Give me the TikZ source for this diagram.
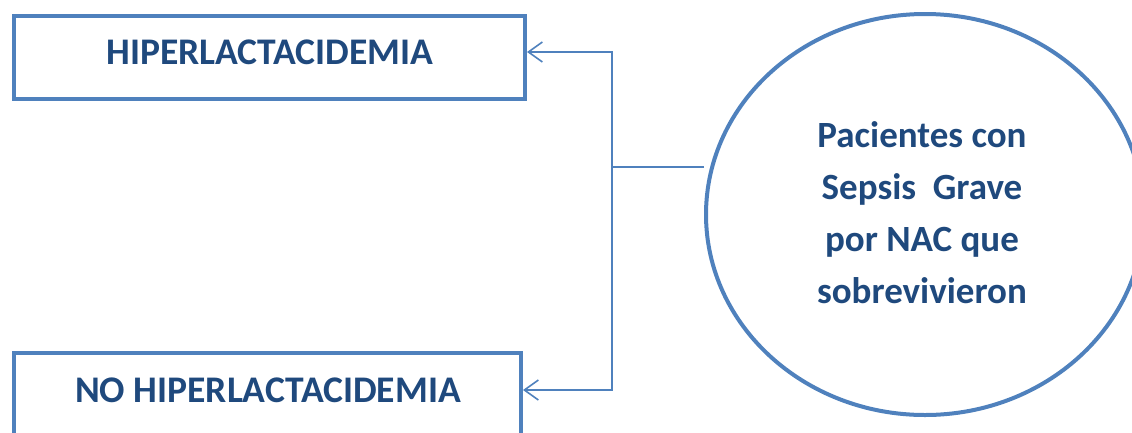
\documentclass[tikz,border=0pt]{standalone}
\usepackage{fontspec}
\setmainfont{Carlito}
\usetikzlibrary{arrows.meta,shapes.geometric}
\definecolor{bord}{HTML}{4F81BD}
\definecolor{txt}{HTML}{1F497D}
\begin{document}
\begin{tikzpicture}[x=1pt,y=1pt,
  box/.style={draw=bord,line width=4pt,inner sep=0pt,minimum height=83pt},
  lbl/.style={text=txt,font=\bfseries\fontsize{37.6}{52}\selectfont,inner sep=0pt},
  clbl/.style={text=txt,font=\bfseries\fontsize{37}{52}\selectfont,inner sep=0pt},
  oval/.style={ellipse,draw=bord,line width=4pt,inner sep=0pt,minimum width=438pt,minimum height=401pt},
  conn/.style={draw=bord,line width=1.6pt},
  tip/.style={-{Straight Barb[length=14pt,width=20pt,line width=1.6pt]}}]
\useasboundingbox (0,0) rectangle (1132,-432);
\node[box,minimum width=511pt] (tbox) at (269.5,-57.5) {};
\node[box,minimum width=507pt] (bbox) at (267.5,-394.5) {};
\node[lbl] (ttext) at (270,-52) {HIPERLACTACIDEMIA};
\node[lbl] (btext) at (268,-390) {NO HIPERLACTACIDEMIA};
\node[oval] (c) at (925,-214.5) {};
\node[clbl,align=center] (ctext) at (922,-213) {Pacientes con\\Sepsis~~Grave\\por NAC que\\sobrevivieron};
\coordinate (j) at (612,-167);
\draw[conn] (c.west |- j) -- (j);
\draw[conn,tip] (j) |- (tbox.east |- ttext);
\draw[conn,tip] (j) |- (bbox.east |- btext);
\end{tikzpicture}
\end{document}
